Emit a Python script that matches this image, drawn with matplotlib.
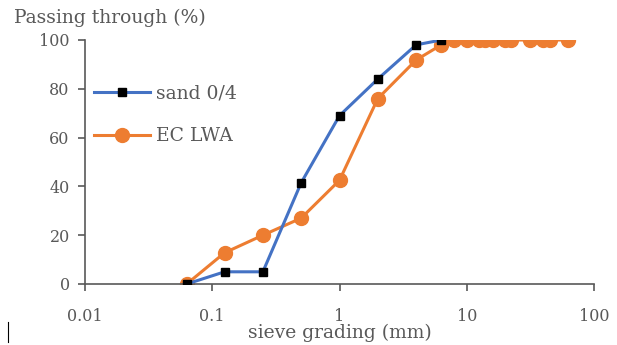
import matplotlib
matplotlib.use("Agg")
import matplotlib.pyplot as plt
from matplotlib.lines import Line2D

sand_x = [0.063, 0.125, 0.25, 0.5, 1, 2, 4, 6.3]
sand_y = [0, 5, 5, 41.5, 69, 84, 98, 100]
lwa_x = [0.063, 0.125, 0.25, 0.5, 1, 2, 4, 6.3, 8, 10, 12.5, 14, 16, 20, 22.4, 31.5, 40, 45, 63]
lwa_y = [0, 12.8, 20, 27, 42.5, 76, 91.8, 98, 100, 100, 100, 100, 100, 100, 100, 100, 100, 100, 100]
x_ticks = [0.01, 0.1, 1, 10, 100]
x_ticklabels = ["0.01", "0.1", "1", "10", "100"]
y_ticks = [0, 20, 40, 60, 80, 100]

plt.rcParams['font.family'] = ['DejaVu Serif']
gray = '#595959'

fig = plt.figure(figsize=(6.17, 3.45), dpi=100)
ax = fig.add_axes([85/617, 1-284/345, (594-85)/617, (284-40)/345])

ax.plot(sand_x, sand_y, color='#4472C4', lw=2.2, marker='s', ms=6,
        mfc='black', mec='black', label='sand 0/4', zorder=3)
ax.plot(lwa_x, lwa_y, color='#ED7D31', lw=2.2, marker='o', ms=10,
        mfc='#ED7D31', mec='#ED7D31', label='EC LWA', zorder=2)

ax.set_xscale('log')
ax.set_xlim(0.01, 100)
ax.set_ylim(0, 100)
ax.set_xticks(x_ticks)
ax.set_xticklabels(x_ticklabels)
ax.minorticks_off()
ax.set_yticks(y_ticks)

for s in ['top', 'right']:
    ax.spines[s].set_visible(False)
for s in ['left', 'bottom']:
    ax.spines[s].set_color(gray)
    ax.spines[s].set_linewidth(1.2)
ax.tick_params(axis='both', colors=gray, labelsize=11.5, length=5, width=1.2, direction='out')
ax.tick_params(axis='x', pad=12)
ax.tick_params(axis='y', pad=6)

fig.text(14/617, 1-18/345, 'Passing through (%)', fontsize=13.5, color=gray, va='center', ha='left')
fig.text(340/617, 1-333/345, 'sieve grading (mm)', fontsize=13.5, color=gray, va='center', ha='center')

leg = ax.legend(loc='upper left', bbox_to_anchor=(-0.015, 0.885), frameon=False,
                fontsize=13.5, handlelength=3.0, labelspacing=1.3, handletextpad=0.3,
                labelcolor=gray)

fig.add_artist(Line2D([8/617, 8/617], [1-342/345, 1-322/345], color='black', lw=0.8))

fig.savefig('out.png', dpi=100)
